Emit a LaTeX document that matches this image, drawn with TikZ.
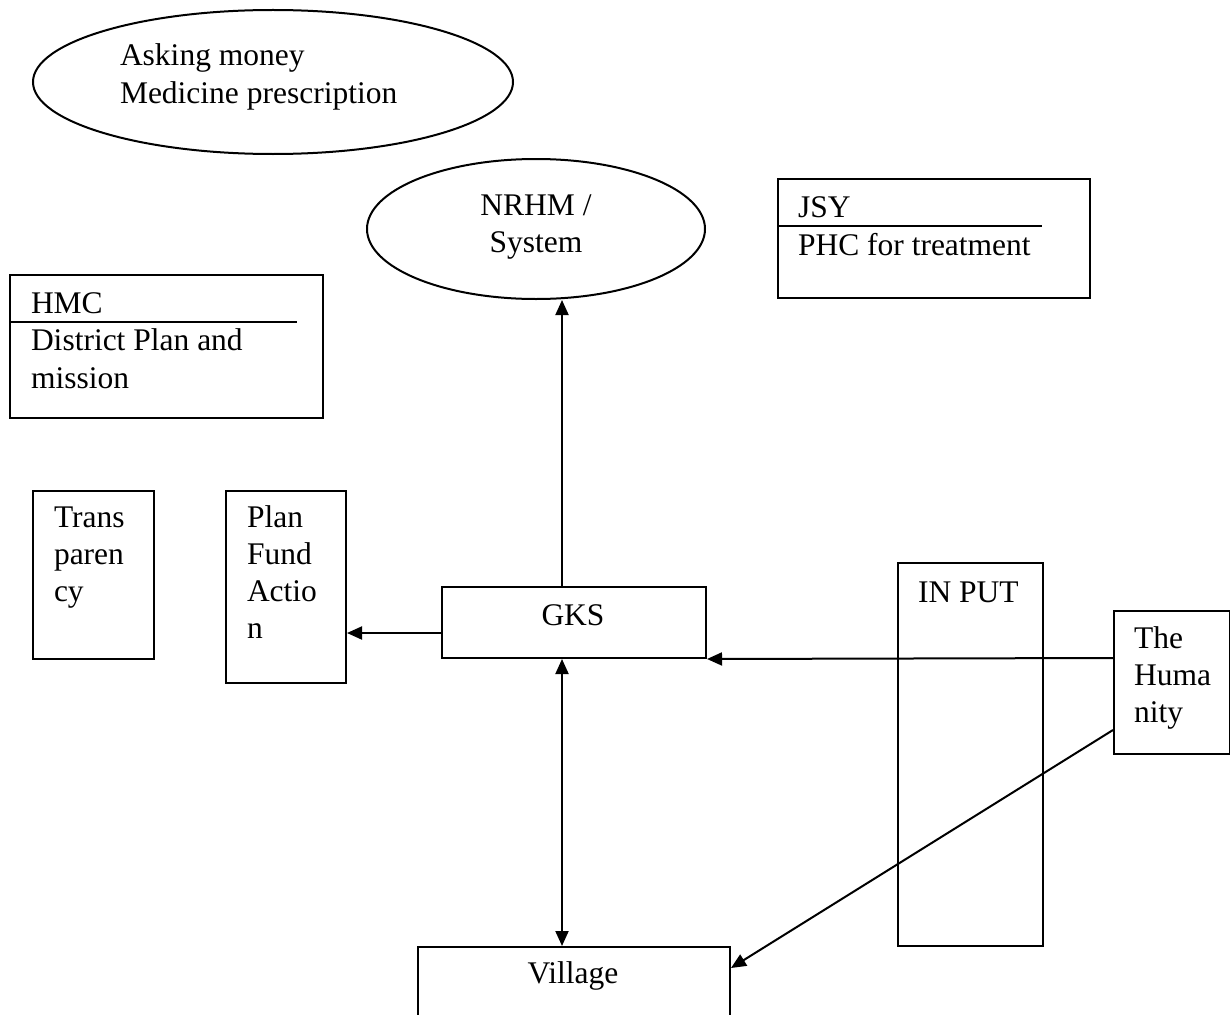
\documentclass[tikz,border=0pt]{standalone}
\usepackage{fontspec}
\setmainfont{Liberation Serif}
\usetikzlibrary{arrows.meta,shapes.geometric}
\begin{document}
\begin{tikzpicture}[x=1pt,y=-1pt,line width=2pt,
  box/.style={draw,rectangle,line width=2pt,inner sep=0pt,anchor=north west},
  oval/.style={draw,ellipse,line width=2pt,inner sep=0pt},
  lbl/.style={anchor=base west,inner sep=0pt,font=\fontsize{31.5}{37}\selectfont},
  clbl/.style={anchor=base,inner sep=0pt,font=\fontsize{31.5}{37}\selectfont},
  arr/.style={-{Triangle[length=15pt,width=13pt]},line width=2pt},
  darr/.style={{Triangle[length=15pt,width=13pt]}-{Triangle[length=15pt,width=13pt]},line width=2pt}]
\useasboundingbox (0,0) rectangle (1230,1014);
\fill[white] (0,0) rectangle (1230,1014);
% ellipses
\node[oval,minimum width=480pt,minimum height=144pt] (ask) at (273,82) {};
\node[lbl] (askt1) at (119,66) {Asking money};
\node[lbl] (askt2) at (119,104) {Medicine prescription};
\node[oval,minimum width=338pt,minimum height=140pt] (nrhm) at (536,229) {};
\node[clbl] (nrhmt1) at (536,215) {NRHM /};
\node[clbl] (nrhmt2) at (536,252) {System};
% JSY box
\node[box,minimum width=312pt,minimum height=119pt] (jsy) at (777,178) {};
\draw (jsy.west |- 0,226) coordinate (jsyl) -- (1042,226) coordinate (jsyr);
\node[lbl] (jsyt1) at (797,217) {JSY};
\node[lbl] (jsyt2) at (797,255) {PHC for treatment};
% HMC box
\node[box,minimum width=313pt,minimum height=143pt] (hmc) at (9,274) {};
\draw (hmc.west |- 0,322) coordinate (hmcl) -- (297,322) coordinate (hmcr);
\node[lbl] (hmct1) at (30,313) {HMC};
\node[lbl] (hmct2) at (30,350) {District Plan and};
\node[lbl] (hmct3) at (30,388) {mission};
% Transparency
\node[box,minimum width=121pt,minimum height=168pt] (trans) at (32,490) {};
\node[lbl] (transt1) at (53,527) {Trans};
\node[lbl] (transt2) at (53,564) {paren};
\node[lbl] (transt3) at (53,601) {cy};
% Plan Fund Action
\node[box,minimum width=120pt,minimum height=192pt] (plan) at (225,490) {};
\node[lbl] (plant1) at (246,527) {Plan};
\node[lbl] (plant2) at (246,564) {Fund};
\node[lbl] (plant3) at (246,601) {Actio};
\node[lbl] (plant4) at (246,638) {n};
% GKS
\node[box,minimum width=264pt,minimum height=71pt] (gks) at (441,586) {};
\node[clbl] (gkst) at (573,625) {GKS};
% IN PUT
\node[box,minimum width=145pt,minimum height=383pt] (input) at (897,562) {};
\node[lbl] (inputt) at (917,602) {IN PUT};
% Humanity
\node[box,minimum width=116pt,minimum height=143pt] (hum) at (1113,610) {};
\node[lbl] (humt1) at (1133,648) {The};
\node[lbl] (humt2) at (1133,685) {Huma};
\node[lbl] (humt3) at (1133,722) {nity};
% Village
\node[box,minimum width=312pt,minimum height=100pt] (vil) at (417,946) {};
\node[clbl] (vilt) at (573,983) {Village};
% connectors
\draw[arr] (gks.north -| 562,0) -- (nrhm.south -| 562,0);
\draw[arr] (gks.west |- 0,633) -- (plan.east |- 0,633);
\draw[darr] (gks.south -| 562,0) -- (vil.north -| 562,0);
\draw[arr] (hum.west |- 0,658) -- (gks.south east);
\draw[arr] (hum.west |- 0,730) -- (vil.east |- 0,968);
\end{tikzpicture}
\end{document}
